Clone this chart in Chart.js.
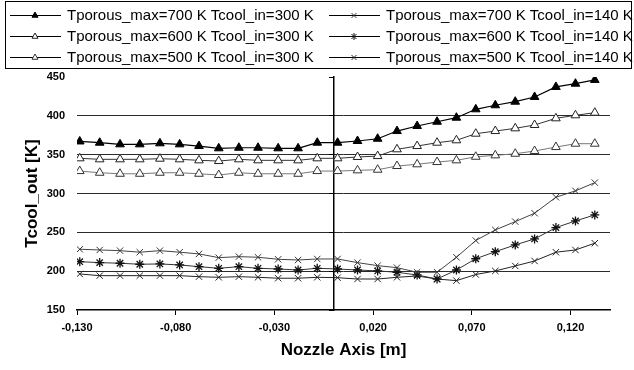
<!DOCTYPE html>
<html>
<head>
<meta charset="utf-8">
<script src="https://cdn.jsdelivr.net/npm/chart.js@4.4.1/dist/chart.umd.min.js"></script>
<style>
  html, body { margin: 0; padding: 0; background: #fff; }
  #wrap { width: 634px; height: 370px; }
</style>
</head>
<body>
<div id="wrap"><canvas id="chart" width="634" height="370"></canvas></div>
<script>
// Axial stations along the nozzle [m]
const axialPos = [-0.1286, -0.1185, -0.1082, -0.0982, -0.0880, -0.0780, -0.0682, -0.0582, -0.0480,
  -0.0383, -0.0281, -0.0180, -0.0083, 0.0020, 0.0121, 0.0223, 0.0321, 0.0423, 0.0524, 0.0622,
  0.0720, 0.0819, 0.0920, 0.1018, 0.1126, 0.1225, 0.1323];

// Coolant outlet temperature [K] for each porous wall / coolant inlet case
const t700in300 = [367.0, 365.4, 363.3, 363.3, 364.6, 363.3, 361.1, 358.2, 358.9, 358.9, 358.2, 358.2, 365.4,
  365.4, 367.6, 370.5, 380.4, 386.9, 392.4, 397.6, 408.4, 413.6, 418.2, 424.3, 437.2, 441.4, 446.2];
const t600in300 = [345.3, 344.0, 344.0, 344.0, 344.8, 344.0, 342.7, 341.8, 344.0, 342.7, 342.7, 342.7, 345.3,
  345.3, 347.0, 348.2, 356.9, 361.1, 365.4, 368.5, 377.0, 380.4, 383.9, 388.2, 396.8, 400.7, 404.0];
const t500in300 = [328.9, 326.7, 325.4, 325.4, 326.7, 326.7, 325.4, 323.8, 326.7, 325.4, 325.4, 325.4, 328.9,
  328.9, 329.8, 330.6, 335.4, 337.6, 340.5, 342.7, 347.3, 349.1, 351.2, 354.7, 359.8, 364.1, 364.1];
const t700in140 = [228.2, 227.3, 226.4, 224.4, 226.4, 224.4, 222.2, 217.4, 218.7, 217.9, 215.3, 214.4, 215.7,
  215.7, 211.0, 207.1, 204.5, 198.6, 198.6, 217.9, 239.5, 253.1, 263.8, 274.6, 295.2, 303.4, 314.0];
const t600in140 = [212.2, 211.0, 210.2, 208.9, 209.3, 208.0, 205.8, 203.7, 205.8, 203.7, 202.8, 201.5, 203.7,
  202.8, 201.5, 200.3, 198.6, 195.1, 189.9, 201.5, 216.0, 225.1, 233.8, 241.5, 256.1, 264.7, 272.4];
const t500in140 = [196.4, 194.2, 194.2, 194.2, 194.2, 194.2, 192.9, 192.1, 192.9, 192.1, 190.9, 190.9, 192.1,
  191.6, 189.9, 189.9, 192.1, 193.8, 189.9, 187.8, 195.7, 200.3, 206.7, 213.1, 224.4, 227.3, 236.0];

const seriesLabels = [
  'Tporous_max=700 K Tcool_in=300 K', 'Tporous_max=700 K Tcool_in=140 K',
  'Tporous_max=600 K Tcool_in=300 K', 'Tporous_max=600 K Tcool_in=140 K',
  'Tporous_max=500 K Tcool_in=300 K', 'Tporous_max=500 K Tcool_in=140 K'
];

const xTickValues = [-0.13, -0.08, -0.03, 0.02, 0.07, 0.12];
const yMin = 150, yMax = 450, yStep = 50;

const FONT = '"Liberation Sans", Arial, Helvetica, sans-serif';

function points(values) {
  return axialPos.map((x, i) => ({ x: x, y: values[i] }));
}

function series(label, values, style) {
  return Object.assign({
    label: label,
    data: points(values),
    fill: false,
    tension: 0,
    borderWidth: 1,
    pointBorderWidth: 1,
    pointHoverRadius: 4
  }, style);
}

const datasets = [
  series(seriesLabels[0], t700in300, { borderColor: '#000', pointStyle: 'triangle', pointRadius: 5,
    pointBackgroundColor: '#000', pointBorderColor: '#000', borderWidth: 1.2 }),
  series(seriesLabels[1], t700in140, { borderColor: '#444', pointStyle: 'crossRot', pointRadius: 4.5,
    pointBackgroundColor: '#333', pointBorderColor: '#333' }),
  series(seriesLabels[2], t600in300, { borderColor: '#333', pointStyle: 'triangle', pointRadius: 5,
    pointBackgroundColor: '#fff', pointBorderColor: '#222' }),
  series(seriesLabels[3], t600in140, { borderColor: '#333', pointStyle: 'star', pointRadius: 4.5,
    pointBackgroundColor: '#111', pointBorderColor: '#111', pointBorderWidth: 1.3 }),
  series(seriesLabels[4], t500in300, { borderColor: '#777', pointStyle: 'triangle', pointRadius: 5,
    pointBackgroundColor: '#fff', pointBorderColor: '#333' }),
  series(seriesLabels[5], t500in140, { borderColor: '#222', pointStyle: 'crossRot', pointRadius: 4.5,
    pointBackgroundColor: '#222', pointBorderColor: '#222' })
];

// Framed two-column legend above the plot
const framedLegend = {
  id: 'framedLegend',
  afterDraw(chart) {
    const ctx = chart.ctx;
    ctx.save();
    ctx.strokeStyle = '#000';
    ctx.lineWidth = 1;
    ctx.strokeRect(5.5, 1.5, 626, 67);
    const colX = [10, 329];
    const rowY = [15.5, 36.5, 57.5];
    chart.data.datasets.forEach((ds, i) => {
      const x0 = colX[i % 2];
      const y = rowY[Math.floor(i / 2)];
      ctx.beginPath();
      ctx.moveTo(x0, y);
      ctx.lineTo(x0 + 51, y);
      ctx.strokeStyle = '#000';
      ctx.lineWidth = 1;
      ctx.stroke();
      ctx.fillStyle = ds.pointBackgroundColor;
      ctx.strokeStyle = ds.pointBorderColor;
      ctx.lineWidth = 1;
      Chart.helpers.drawPoint(ctx, { pointStyle: ds.pointStyle, rotation: 0, radius: 3.5, borderWidth: 1 }, x0 + 25, y);
      ctx.fillStyle = '#000';
      ctx.font = '15px ' + FONT;
      ctx.textAlign = 'left';
      ctx.textBaseline = 'middle';
      ctx.fillText(ds.label, x0 + 57, y + 0.5);
    });
    ctx.restore();
  }
};

new Chart(document.getElementById('chart'), {
  type: 'line',
  data: { datasets: datasets },
  plugins: [framedLegend],
  options: {
    responsive: false,
    animation: false,
    devicePixelRatio: 1,
    layout: { padding: { top: 77, right: 24, left: 0, bottom: 0 } },
    plugins: {
      legend: { display: false },
      tooltip: { enabled: false }
    },
    scales: {
      x: {
        type: 'linear',
        min: -0.13,
        max: 0.14,
        afterBuildTicks: s => { s.ticks = xTickValues.map(v => ({ value: v })); },
        afterFit: s => { s.height = 60; },
        grid: { drawOnChartArea: false, color: '#000', tickLength: 5, lineWidth: 1 },
        border: { display: true, color: '#000', width: 1.5 },
        ticks: {
          autoSkip: false, maxRotation: 0, color: '#000', padding: 6,
          font: { family: FONT, size: 11, weight: 'bold' },
          callback: v => Number(v).toFixed(3).replace('.', ',')
        },
        title: {
          display: true, text: 'Nozzle Axis [m]', color: '#000',
          font: { family: FONT, size: 17, weight: 'bold' },
          padding: { top: 0, bottom: 9 }
        }
      },
      y: {
        min: yMin,
        max: yMax,
        afterFit: s => { s.width = 77; },
        ticks: { stepSize: yStep, color: '#000', padding: 12, font: { family: FONT, size: 11, weight: 'bold' } },
        grid: {
          drawTicks: false,
          lineWidth: 1,
          color: c => (c.tick && (c.tick.value === yMin || c.tick.value === yMax)) ? 'rgba(0,0,0,0)' : '#2a2a2a'
        },
        border: { display: false },
        title: {
          display: true, text: 'Tcool_out [K]', color: '#000',
          font: { family: FONT, size: 17, weight: 'bold' },
          padding: { top: 22, bottom: 0 }
        }
      },
      yAxisAtZero: {
        axis: 'y',
        position: { x: 0 },
        min: yMin,
        max: yMax,
        ticks: { stepSize: yStep, display: false },
        grid: { drawOnChartArea: false, color: '#000', tickLength: 4 },
        border: { display: true, color: '#000', width: 1.5 }
      }
    }
  }
});
</script>
</body>
</html>
